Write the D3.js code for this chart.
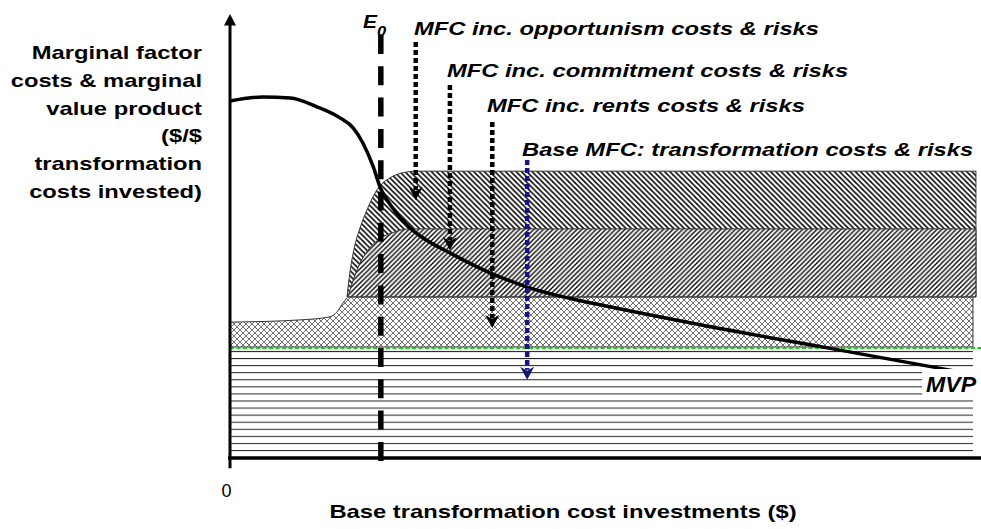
<!DOCTYPE html>
<html><head><meta charset="utf-8">
<script src="https://cdn.jsdelivr.net/npm/d3@7"></script>
<style>body{margin:0;background:#fff}svg{display:block}</style>
</head><body>
<svg id="c" width="981" height="529"></svg>
<script>
// ---- data (x: base transformation cost investment, y: $/$) ----
const mvpX = [0, 4.4, 8.1, 11.7, 14.8, 16.6, 17.9, 19.3, 20.2, 21.9, 23.8, 25.6, 29.6, 35.0, 40.0, 46.7, 49.8, 63.3, 80.4, 99.2];
const mvpY = [80.4, 81.3, 81.1, 79.1, 76.6, 74.3, 70.9, 65.5, 61.0, 56.3, 52.5, 50.0, 46.2, 41.7, 38.5, 35.6, 34.5, 30.0, 24.8, 19.1];

const oppX = [15.75, 16.15, 16.82, 17.5, 18.44, 19.78, 21.53, 23.15, 25.17, 100.4];
const oppY = [36.3, 41.9, 48.0, 51.8, 55.9, 60.4, 63.1, 64.2, 64.6, 64.6];

const comX = [15.88, 16.55, 17.5, 18.57, 19.92, 21.8, 24.23, 100.4];
const comY = [36.3, 39.9, 43.9, 46.8, 49.1, 50.7, 51.6, 51.6];

const rentX = [0, 9.42, 13.46, 14.4, 15.21, 16.02, 100];
const rentY = [30.6, 31.1, 31.8, 32.9, 34.9, 36.3, 36.3];

const baseX = [0, 100];
const baseY = [25.0, 25.0];

const e0X = 20.3;

const arrowLabels = ["MFC inc. opportunism costs & risks", "MFC inc. commitment costs & risks",
                     "MFC inc. rents costs & risks", "Base MFC: transformation costs & risks"];
const arrowX = [25.0, 29.6, 35.3, 40.0];
const arrowTop = [93.7, 84.0, 75.7, 67.1];
const arrowTip = [58.1, 46.8, 29.3, 17.6];

const yTitle = ["Marginal factor", "costs & marginal", "value product", "($/$", "transformation", "costs invested)"];
const xTitle = "Base transformation cost investments ($)";
const xTicks = [0];

// ---- scales ----
const x = d3.scaleLinear().domain([0, 101]).range([230, 980.4]);
const y = d3.scaleLinear().domain([0, 100]).range([458, 14]);

const svg = d3.select("#c");
const FONT = "'Liberation Sans', Arial, Helvetica, sans-serif";
const SX = 1.25;

// ---- patterns ----
const defs = svg.append("defs");
function pat(id, w, h, draw, attrs) {
  const p = defs.append("pattern").attr("id", id).attr("patternUnits", "userSpaceOnUse")
    .attr("width", w).attr("height", h);
  if (attrs) for (const k in attrs) p.attr(k, attrs[k]);
  p.append("rect").attr("width", w).attr("height", h).attr("fill", "#fff");
  draw(p);
}
pat("hlines", 20, 7.07, p => p.append("path").attr("d", "M0,0.5H20").attr("stroke", "#222").attr("stroke-width", 1), {y: 351});
pat("xhatch", 6, 6, p => p.append("path").attr("d", "M0,0L6,6M6,0L0,6").attr("stroke", "#444").attr("stroke-width", 0.75));
const w1 = 5.3;
pat("back", w1, w1, p => p.append("path")
  .attr("d", `M0,0L${w1},${w1}M${-1},${w1-1}L1,${w1+1}M${w1-1},-1L${w1+1},1`)
  .attr("stroke", "#000").attr("stroke-width", 1.5));
const w2 = 4.8;
pat("fwd", w2, w2, p => p.append("path")
  .attr("d", `M0,${w2}L${w2},0M-1,1L1,-1M${w2-1},${w2+1}L${w2+1},${w2-1}`)
  .attr("stroke", "#000").attr("stroke-width", 1.35));

// ---- bands ----
function zip(xs, ys) { return xs.map((v, i) => [v, ys[i]]); }
function band(xs, ys, floor, fill) {
  const a = d3.area().x(d => x(d[0])).y1(d => y(d[1])).y0(y(floor)).curve(d3.curveMonotoneX);
  svg.append("path").datum(zip(xs, ys)).attr("d", a).attr("fill", fill)
    .attr("stroke", "#333").attr("stroke-width", 1);
}
// base (horizontal lines)
svg.append("path").datum(zip(baseX, baseY))
  .attr("d", d3.area().x(d => x(d[0])).y1(d => y(d[1])).y0(y(0)))
  .attr("fill", "url(#hlines)");
band(rentX, rentY, baseY[0], "url(#xhatch)");
band(oppX, oppY, rentY[rentY.length - 1], "url(#back)");
band(comX, comY, rentY[rentY.length - 1], "url(#fwd)");

// green dashed base line
svg.append("line").attr("x1", x(0)).attr("x2", 981).attr("y1", y(baseY[0]) + 1).attr("y2", y(baseY[0]) + 1)
  .attr("stroke", "#00dd00").attr("stroke-width", 1.8).attr("stroke-dasharray", "4,2.5");

// ---- axes ----
const xAxis = d3.axisBottom(x).tickValues(xTicks).tickSize(0).tickPadding(26).tickFormat(d3.format("d"));
const gx = svg.append("g").attr("transform", `translate(0,${y(0)})`).call(xAxis);
gx.select(".domain").attr("stroke", "#000").attr("stroke-width", 3.5).attr("d", `M${x(0)-2},0H981`);
gx.selectAll("text").attr("font-family", FONT).attr("font-size", 18).attr("fill", "#000").attr("dx", -4);

svg.append("line").attr("x1", x(0)).attr("x2", x(0)).attr("y1", y(-2.3)).attr("y2", y(97.8))
  .attr("stroke", "#000").attr("stroke-width", 3);
svg.append("path").attr("d", `M${x(0)},${y(100)}L${x(0)-6},${y(97.4)}L${x(0)+6},${y(97.4)}Z`).attr("fill", "#000");

// ---- E0 line ----
svg.append("line").attr("x1", x(e0X)).attr("x2", x(e0X)).attr("y1", 35).attr("y2", 461)
  .attr("stroke", "#000").attr("stroke-width", 5.5).attr("stroke-dasharray", "19,12.3");

// ---- MVP ----
svg.append("path").datum(zip(mvpX, mvpY))
  .attr("d", d3.line().x(d => x(d[0])).y(d => y(d[1])).curve(d3.curveMonotoneX))
  .attr("fill", "none").attr("stroke", "#000").attr("stroke-width", 3.5);

// ---- arrows ----
const arrowColors = ["#000", "#000", "#000", "#15157a"];
arrowX.forEach((ax, i) => {
  const px = x(ax), top = y(arrowTop[i]), tip = y(arrowTip[i]);
  svg.append("line").attr("x1", px).attr("x2", px).attr("y1", top).attr("y2", tip - 10)
    .attr("stroke", arrowColors[i]).attr("stroke-width", 4.5).attr("stroke-dasharray", "5,3");
  svg.append("path").attr("d", `M${px},${tip}L${px-7},${tip-13}L${px},${tip-9}L${px+7},${tip-13}Z`)
    .attr("fill", arrowColors[i]);
});

// ---- text ----
function txt(px, py, s, o = {}) {
  return svg.append("text").attr("transform", `translate(${px},${py}) scale(${o.sx ?? SX},1)`)
    .attr("font-family", FONT).attr("font-size", o.size ?? 19)
    .attr("font-weight", o.weight ?? "bold").attr("font-style", o.style ?? "normal")
    .attr("text-anchor", o.anchor ?? "start").attr("fill", "#000").text(s);
}
const labelPos = [[414, 35], [447, 77], [487, 112], [522, 156]];
arrowLabels.forEach((s, i) => txt(labelPos[i][0], labelPos[i][1], s, {style: "italic"}));

txt(363, 28, "E", {style: "italic", sx: 1.1});
txt(377, 36, "0", {style: "italic", size: 15, sx: 1.1});

yTitle.forEach((s, i) => txt(202, 59 + i * 27.8, s, {anchor: "end"}));
txt(563, 518, xTitle, {anchor: "middle"});

svg.append("rect").attr("x", 922).attr("y", 369).attr("width", 52).attr("height", 28).attr("fill", "#fff");
txt(926, 392, "MVP", {style: "italic", size: 22, sx: 1.05});
</script>
</body></html>
